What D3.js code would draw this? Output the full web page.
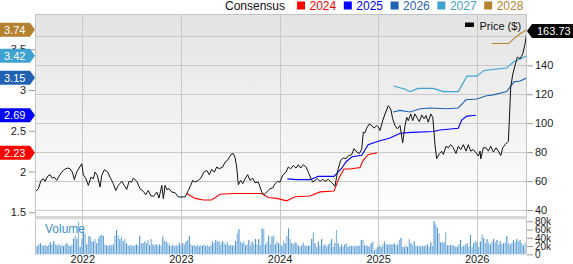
<!DOCTYPE html>
<html>
<head>
<meta charset="utf-8">
<script src="https://cdn.jsdelivr.net/npm/d3@7"></script>
<style>
  body { margin: 0; background: #fff; }
  svg text { font-family: "Liberation Sans", Arial, sans-serif; }
</style>
</head>
<body>
<div id="chart"></div>
<script>
// ---- data ----
const years = [2022, 2023, 2024, 2025, 2026];
const priceTicks = [40, 60, 80, 100, 120, 140];
const priceGrid = [40, 60, 80, 100, 120, 140, 160];
const epsTicks = [1.5, 2, 2.5, 3, 3.5];
const volTicks = [0, 20, 40, 60, 80];           // thousands
const consensusNames = ["2024", "2025", "2026", "2027", "2028"];
const consensusColors = ["#ff0000", "#0000ff", "#1f62b4", "#3ea2d0", "#b5822f"];
const consensusLast = [2.23, 2.69, 3.15, 3.42, 3.74];
const lastPrice = 163.73;

// [decimal year, price $]
const price = [[2021.520,52.4],[2021.554,54.7],[2021.581,60.4],[2021.604,61.6],[2021.622,59.8],[2021.649,63.4],[2021.672,64.4],[2021.696,62.0],[2021.716,62.7],[2021.740,60.5],[2021.764,63.4],[2021.791,66.2],[2021.817,68.0],[2021.848,69.0],[2021.875,68.5],[2021.899,66.2],[2021.919,61.0],[2021.943,66.2],[2021.967,69.0],[2021.994,72.0],[2022.010,64.4],[2022.034,62.0],[2022.061,57.0],[2022.088,62.7],[2022.112,61.6],[2022.129,66.2],[2022.152,64.0],[2022.180,55.9],[2022.197,64.0],[2022.223,67.8],[2022.258,66.2],[2022.281,62.7],[2022.314,58.2],[2022.339,53.5],[2022.365,57.0],[2022.400,59.8],[2022.426,57.0],[2022.450,54.2],[2022.474,59.8],[2022.501,59.3],[2022.517,62.0],[2022.552,59.8],[2022.585,54.7],[2022.619,52.9],[2022.643,50.6],[2022.669,53.5],[2022.697,49.6],[2022.724,49.6],[2022.755,52.4],[2022.778,48.3],[2022.806,57.0],[2022.822,47.8],[2022.839,57.0],[2022.856,54.2],[2022.880,54.7],[2022.907,52.4],[2022.940,52.0],[2022.974,49.0],[2023.024,49.0],[2023.042,49.0],[2023.075,53.5],[2023.099,57.0],[2023.120,60.5],[2023.143,59.3],[2023.176,60.5],[2023.201,62.0],[2023.234,66.2],[2023.262,67.4],[2023.288,64.4],[2023.312,68.0],[2023.339,66.2],[2023.363,69.7],[2023.389,68.5],[2023.424,69.7],[2023.447,73.0],[2023.471,74.2],[2023.491,76.5],[2023.515,78.9],[2023.531,78.9],[2023.548,76.5],[2023.566,69.7],[2023.582,57.5],[2023.606,60.5],[2023.627,58.2],[2023.650,61.6],[2023.677,64.4],[2023.701,60.5],[2023.728,62.0],[2023.751,58.9],[2023.785,59.3],[2023.820,52.4],[2023.843,50.6],[2023.876,52.9],[2023.904,54.7],[2023.931,55.2],[2023.955,58.2],[2023.982,59.8],[2024.005,59.3],[2024.032,64.0],[2024.066,66.2],[2024.089,69.7],[2024.114,68.5],[2024.140,70.8],[2024.167,69.0],[2024.191,71.3],[2024.215,69.0],[2024.241,71.3],[2024.269,69.7],[2024.292,66.2],[2024.317,62.0],[2024.337,59.3],[2024.360,60.5],[2024.384,61.6],[2024.411,59.8],[2024.438,61.2],[2024.461,59.8],[2024.495,61.2],[2024.529,58.8],[2024.563,56.5],[2024.580,63.4],[2024.596,68.7],[2024.621,74.4],[2024.647,76.0],[2024.674,75.5],[2024.698,77.4],[2024.732,78.3],[2024.756,82.4],[2024.783,80.1],[2024.810,79.0],[2024.834,82.4],[2024.850,93.8],[2024.867,93.4],[2024.884,96.6],[2024.911,99.5],[2024.935,98.4],[2024.958,96.6],[2024.986,98.4],[2025.002,97.3],[2025.019,95.0],[2025.047,101.8],[2025.070,106.4],[2025.103,112.1],[2025.128,109.8],[2025.148,103.0],[2025.171,98.4],[2025.195,96.1],[2025.222,98.4],[2025.249,86.5],[2025.273,98.4],[2025.290,104.1],[2025.306,101.8],[2025.331,106.4],[2025.351,101.8],[2025.374,106.4],[2025.398,103.4],[2025.418,101.1],[2025.442,105.7],[2025.466,103.0],[2025.486,105.3],[2025.509,100.7],[2025.534,106.4],[2025.554,104.1],[2025.567,93.8],[2025.577,84.7],[2025.594,75.5],[2025.621,79.0],[2025.645,80.6],[2025.661,78.4],[2025.689,84.1],[2025.712,83.0],[2025.736,85.2],[2025.763,83.0],[2025.790,79.1],[2025.813,84.1],[2025.838,81.8],[2025.864,85.2],[2025.892,80.7],[2025.915,85.2],[2025.939,80.7],[2025.966,81.8],[2025.993,79.5],[2026.017,77.3],[2026.034,80.7],[2026.041,75.4],[2026.067,83.0],[2026.094,83.0],[2026.118,80.7],[2026.142,84.1],[2026.169,80.0],[2026.196,83.0],[2026.219,80.7],[2026.244,77.7],[2026.264,83.0],[2026.288,85.2],[2026.321,87.5],[2026.331,102.3],[2026.345,125.0],[2026.366,134.0],[2026.389,140.0],[2026.412,145.7],[2026.440,144.5],[2026.467,148.0],[2026.490,154.8],[2026.510,163.73]];

// consensus EPS estimates, [decimal year, EPS]
const eps2024 = [[2023.059,1.73],[2023.143,1.67],[2023.227,1.65],[2023.312,1.65],[2023.397,1.72],[2023.531,1.73],[2023.819,1.73],[2023.885,1.68],[2023.973,1.67],[2024.073,1.64],[2024.157,1.69],[2024.309,1.70],[2024.411,1.75],[2024.553,1.76],[2024.611,1.94],[2024.654,2.03],[2024.714,2.03],[2024.817,2.05],[2024.850,2.14],[2024.901,2.21],[2024.992,2.23]];
const eps2025 = [[2024.079,1.91],[2024.174,1.90],[2024.309,1.90],[2024.393,1.94],[2024.553,1.94],[2024.631,2.04],[2024.675,2.12],[2024.736,2.18],[2024.834,2.20],[2024.898,2.33],[2025.002,2.37],[2025.121,2.41],[2025.223,2.47],[2025.341,2.48],[2025.560,2.49],[2025.627,2.51],[2025.813,2.53],[2025.848,2.63],[2025.899,2.68],[2025.993,2.69]];
const eps2026 = [[2025.151,2.73],[2025.223,2.75],[2025.324,2.73],[2025.426,2.77],[2025.527,2.78],[2025.696,2.77],[2025.813,2.78],[2025.891,2.88],[2026.000,2.89],[2026.101,2.93],[2026.168,2.94],[2026.304,2.98],[2026.378,3.10],[2026.439,3.11],[2026.510,3.15]];
const eps2027 = [[2025.157,3.05],[2025.276,3.01],[2025.324,2.98],[2025.408,3.02],[2025.560,3.02],[2025.661,2.98],[2025.813,2.98],[2025.901,3.17],[2026.000,3.17],[2026.074,3.24],[2026.304,3.27],[2026.378,3.35],[2026.422,3.37],[2026.510,3.42]];
const eps2028 = [[2026.152,3.57],[2026.321,3.57],[2026.378,3.63],[2026.439,3.69],[2026.510,3.74]];

// weekly volume, thousands of shares
const volume = [22,20,24,27,22,21,22,20,23,29,24,32,24,22,25,21,22,20,24,27,22,20,23,38,45,38,79,18,39,56,51,24,45,43,32,31,37,27,39,45,48,45,24,22,20,23,22,24,45,59,45,37,43,32,37,27,22,21,23,20,22,24,21,45,27,27,32,27,35,22,37,24,22,25,21,24,22,43,32,31,27,22,20,23,19,22,21,27,21,27,24,31,35,45,24,21,22,20,23,19,22,21,24,20,22,19,22,31,27,35,31,31,24,32,29,24,31,22,23,21,22,32,51,61,31,27,31,22,24,35,22,31,24,37,24,37,22,63,61,24,31,45,24,43,45,24,31,27,24,21,
  32,27,45,63,37,27,24,29,27,21,18,22,29,21,21,21,21,37,53,27,18,31,21,37,21,24,18,24,27,37,18,27,59,27,18,24,18,24,27,18,21,20,21,19,21,20,21,35,35,22,21,21,18,27,31,10,14,18,22,18,24,31,24,24,24,24,24,27,22,24,35,40,18,18,22,18,37,27,22,31,21,20,21,19,21,20,22,24,18,29,21,81,73,65,51,29,29,29,53,22,22,22,22,21,18,18,24,35,18,21,24,27,18,47,18,27,32,29,18,31,48,40,27,37,29,24,31,37,29,35,24,32,24,27,29,45,27,24,27,35,29,37,31,35,27,21,27];
const volStart = 2021.525, volEnd = 2026.49;

// ---- layout ----
const width = 573, height = 264;
const plot = {left: 35, right: 527, top: 14, bottom: 216.5};
const vol = {top: 219.5, bottom: 254.5};

const svg = d3.select('#chart').append('svg')
  .attr('width', width)
  .attr('height', height);

const x = d3.scaleLinear().domain([2021.52, 2026.51]).range([plot.left, plot.right]);
const yP = d3.scaleLinear().domain([35.85, 175.5]).range([216, 14]);
const yE = d3.scaleLinear().domain([1.454, 3.9325]).range([216, 14]);
const yV = d3.scaleLinear().domain([0, 80]).range([254.3, 221.3]);

const defs = svg.append('defs');
const grad = defs.append('linearGradient').attr('id', 'bg')
  .attr('x1', 0).attr('y1', 0).attr('x2', 0).attr('y2', 1);
grad.append('stop').attr('offset', '0%').attr('stop-color', '#e3e3e3');
grad.append('stop').attr('offset', '100%').attr('stop-color', '#ffffff');
defs.append('clipPath').attr('id', 'clip').append('rect')
  .attr('x', plot.left).attr('y', plot.top)
  .attr('width', plot.right - plot.left).attr('height', plot.bottom - plot.top);

// backgrounds
svg.append('rect')
  .attr('x', plot.left).attr('y', plot.top)
  .attr('width', plot.right - plot.left).attr('height', plot.bottom - plot.top)
  .attr('fill', 'url(#bg)');
svg.append('rect')
  .attr('x', plot.left).attr('y', plot.bottom)
  .attr('width', plot.right - plot.left).attr('height', vol.top - plot.bottom)
  .attr('fill', '#dedede');

// grid
svg.append('g').selectAll('line').data(priceGrid).join('line')
  .attr('x1', plot.left).attr('x2', plot.right)
  .attr('y1', d => Math.round(yP(d)) + 0.5).attr('y2', d => Math.round(yP(d)) + 0.5)
  .attr('stroke', '#c9c9c9');
svg.append('g').selectAll('line').data(years).join('line')
  .attr('x1', d => Math.round(x(d)) + 0.5).attr('x2', d => Math.round(x(d)) + 0.5)
  .attr('y1', plot.top).attr('y2', vol.bottom)
  .attr('stroke', '#c9c9c9');

// volume bars
const xi = d3.scaleLinear().domain([0, volume.length - 1]).range([x(volStart), x(volEnd)]);
svg.append('g').selectAll('rect').data(volume).join('rect')
  .attr('x', (d, i) => xi(i) - 0.6)
  .attr('width', 1.2)
  .attr('y', d => yV(d))
  .attr('height', d => yV(0) - yV(d))
  .attr('fill', (d, i) => i % 2 ? '#5598d4' : '#86b8e2');

svg.append('text')
  .attr('x', 45).attr('y', 233)
  .attr('font-size', 12)
  .attr('fill', '#3d8fd1')
  .text('Volume');

// lines
const line = d3.line().x(d => x(d[0]));
const lines = svg.append('g').attr('clip-path', 'url(#clip)');
[eps2024, eps2025, eps2026, eps2027, eps2028].forEach((s, i) => {
  lines.append('path')
    .datum(s)
    .attr('fill', 'none')
    .attr('stroke', consensusColors[i])
    .attr('stroke-width', 1.1)
    .attr('d', line.y(d => yE(d[1])));
});
lines.append('path')
  .datum(price)
  .attr('fill', 'none')
  .attr('stroke', '#111')
  .attr('stroke-width', 1)
  .attr('stroke-linejoin', 'round')
  .attr('d', line.y(d => yP(d[1])));

// frames
svg.append('rect')
  .attr('x', plot.left + 0.5).attr('y', plot.top + 0.5)
  .attr('width', plot.right - plot.left - 1).attr('height', plot.bottom - plot.top)
  .attr('fill', 'none').attr('stroke', '#c4c4c4');
svg.append('line')
  .attr('x1', plot.right - 0.5).attr('x2', plot.right - 0.5)
  .attr('y1', vol.top).attr('y2', vol.bottom)
  .attr('stroke', '#c4c4c4');
svg.append('line')
  .attr('x1', plot.left + 0.5).attr('x2', plot.left + 0.5)
  .attr('y1', vol.top).attr('y2', vol.bottom)
  .attr('stroke', '#c4c4c4');

// axes
function styleAxis(g, size) {
  g.select('.domain').remove();
  g.selectAll('.tick line').attr('stroke', '#999');
  g.selectAll('.tick text').attr('fill', '#222').attr('font-size', size)
    .attr('font-family', '"Liberation Sans", Arial, sans-serif');
}
svg.append('g')
  .attr('transform', `translate(${plot.right},0)`)
  .call(d3.axisRight(yP).tickValues(priceTicks).tickSize(6).tickPadding(2))
  .call(styleAxis, 11);
svg.append('g')
  .attr('transform', `translate(${plot.right},0)`)
  .call(d3.axisRight(yV).tickValues(volTicks).tickSize(6).tickPadding(2)
    .tickFormat(d => d === 0 ? '0' : d + 'k'))
  .call(styleAxis, 10);
svg.append('g')
  .attr('transform', `translate(${plot.left},0)`)
  .call(d3.axisLeft(yE).tickValues(epsTicks).tickSize(6).tickPadding(3)
    .tickFormat(d3.format('')))
  .call(styleAxis, 11);
svg.append('g')
  .attr('transform', `translate(0,${vol.bottom})`)
  .call(d3.axisBottom(x).tickValues(years).tickSize(0).tickPadding(1)
    .tickFormat(d3.format('d')))
  .call(styleAxis, 11);

// consensus tags on the left
const tags = svg.append('g');
consensusLast.forEach((v, i) => {
  const cy = yE(v);
  tags.append('path')
    .attr('d', `M0,${cy - 7}H30L35,${cy}L30,${cy + 7}H0Z`)
    .attr('fill', consensusColors[i]);
  tags.append('text')
    .attr('x', 4).attr('y', cy + 4)
    .attr('font-size', 11).attr('fill', '#fff')
    .text(v.toFixed(2));
});

// last price tag
const py = yP(lastPrice);
svg.append('path')
  .attr('d', `M527,${py}L532,${py - 7}H573V${py + 7}H532Z`)
  .attr('fill', '#000');
svg.append('text')
  .attr('x', 537).attr('y', py + 4)
  .attr('font-size', 11).attr('fill', '#fff')
  .text(lastPrice.toFixed(2));

// legends
svg.append('text')
  .attr('x', 225).attr('y', 9.5)
  .attr('font-size', 12).attr('fill', '#111')
  .text('Consensus');
const leg = svg.append('g').selectAll('g').data(consensusNames).join('g')
  .attr('transform', (d, i) => `translate(${297 + i * 46.8},0)`);
leg.append('rect')
  .attr('x', 0).attr('y', 1.5).attr('width', 8).attr('height', 8)
  .attr('fill', (d, i) => consensusColors[i]);
leg.append('text')
  .attr('x', 12.5).attr('y', 9.5)
  .attr('font-size', 12)
  .attr('fill', (d, i) => consensusColors[i])
  .text(d => d);

svg.append('rect')
  .attr('x', 465).attr('y', 22.5).attr('width', 9).attr('height', 4.5)
  .attr('fill', '#000');
svg.append('text')
  .attr('x', 479.5).attr('y', 29.5)
  .attr('font-size', 11).attr('fill', '#111')
  .text('Price ($)');
</script>
</body>
</html>
